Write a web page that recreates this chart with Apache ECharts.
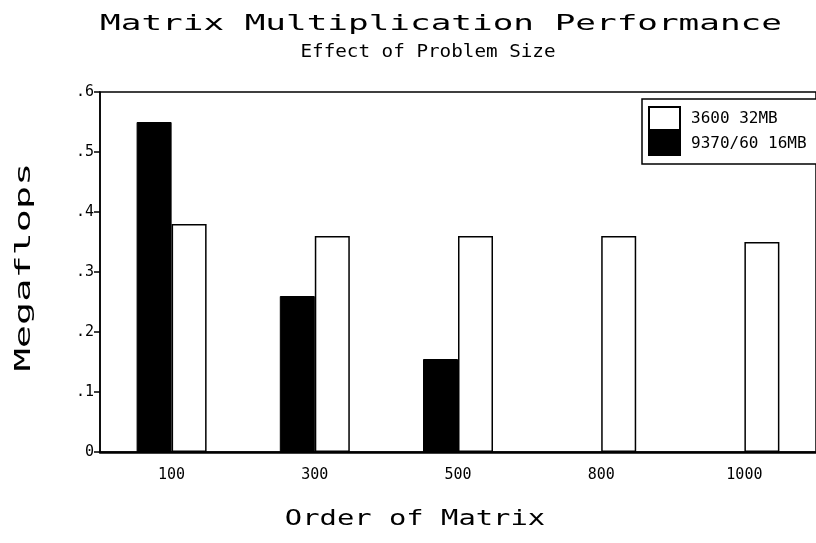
<!DOCTYPE html>
<html>
<head>
<meta charset="utf-8">
<script src="https://cdn.jsdelivr.net/npm/echarts@6/dist/echarts.min.js"></script>
<style>html,body{margin:0;padding:0;background:#fff;}#c{width:816px;height:543px;}</style>
</head>
<body>
<div id="c"></div>
<script>
const categories = ['100', '300', '500', '800', '1000'];
const series3600 = [0.38, 0.36, 0.36, 0.36, 0.35];
const series9370 = [0.55, 0.26, 0.155, null, null];
const seriesNames = ['3600 32MB', '9370/60 16MB'];
const yTicks = [0, 0.1, 0.2, 0.3, 0.4, 0.5, 0.6];

const chart = echarts.init(document.getElementById('c'), null, {renderer: 'canvas'});
const mono = '"DejaVu Sans Mono", monospace';
function txt(text, x, y, size, sx, rot) {
  return {
    type: 'text', x: x, y: y, scaleX: sx, rotation: rot || 0,
    style: {
      text: text, font: size + 'px ' + mono, fill: '#000',
      align: 'center', verticalAlign: 'middle',
      textAlign: 'center', textVerticalAlign: 'middle'
    }
  };
}
chart.setOption({
  backgroundColor: '#fff',
  animation: false,
  grid: {
    left: 100, top: 92, width: 720, height: 360,
    show: true, borderColor: '#000', borderWidth: 1.5, backgroundColor: 'transparent'
  },
  legend: {
    data: seriesNames,
    orient: 'vertical',
    left: 642, top: 99,
    padding: [7, 60, 8, 6],
    itemGap: 0, itemWidth: 31, itemHeight: 23,
    borderColor: '#000', borderWidth: 1.5, backgroundColor: '#fff',
    icon: 'rect',
    selectedMode: false,
    textStyle: {fontFamily: mono, fontSize: 16, color: '#000', padding: [0, 0, 0, 6]}
  },
  xAxis: {
    type: 'category',
    data: categories,
    axisLine: {lineStyle: {color: '#000', width: 2.5}},
    axisTick: {alignWithLabel: true, length: 5, lineStyle: {color: '#000', width: 1.5}},
    axisLabel: {fontFamily: mono, fontSize: 15, color: '#000', margin: 16}
  },
  yAxis: {
    type: 'value',
    min: 0, max: 0.6, interval: 0.1,
    splitLine: {show: false},
    axisLine: {show: true, lineStyle: {color: '#000', width: 1.5}},
    axisTick: {show: true, length: 6, lineStyle: {color: '#000', width: 1.5}},
    axisLabel: {
      fontFamily: mono, fontSize: 15, color: '#000', margin: 6,
      formatter: function (v) {
        const t = yTicks.find(function (k) { return Math.abs(k - v) < 1e-9; });
        if (t === 0) return '0';
        return t.toFixed(1).replace(/^0/, '');
      }
    }
  },
  series: [
    {
      name: seriesNames[1], type: 'bar', data: series9370,
      barWidth: 35, barGap: '0%',
      itemStyle: {color: '#000', borderColor: '#000', borderWidth: 1}
    },
    {
      name: seriesNames[0], type: 'bar', data: series3600,
      barWidth: 35, barGap: '0%',
      itemStyle: {color: '#fff', borderColor: '#000', borderWidth: 1.5}
    }
  ],
  graphic: [
    txt('Matrix Multiplication Performance', 441, 24, 22, 1.56),
    txt('Effect of Problem Size', 428, 52, 18, 1.07),
    txt('Megaflops', 24, 267, 22, 1.75, Math.PI / 2),
    txt('Order of Matrix', 415, 519, 22, 1.31)
  ]
});
</script>
</body>
</html>
